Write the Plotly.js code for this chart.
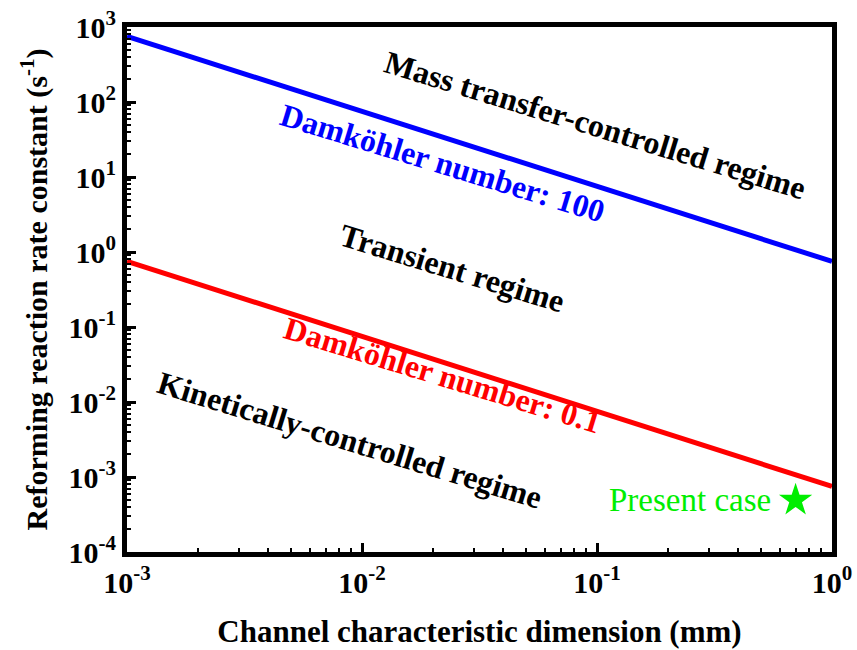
<!DOCTYPE html>
<html>
<head>
<meta charset="utf-8">
<script src="https://cdn.plot.ly/plotly-3.0.1.min.js"></script>
<style>html,body{margin:0;padding:0;background:#fff;}#chart{width:857px;height:650px;}</style>
</head>
<body>
<div id="chart"></div>
<script>
// Data
const dimension = [0.001, 1];                 // channel characteristic dimension (mm)
const damkohler100 = [750, 0.75];             // rate constant (1/s), Da = 100
const damkohler01 = [0.75, 0.00075];          // rate constant (1/s), Da = 0.1
const presentX = [0.70];
const presentY = [0.00049];

const xTickVals = [0.001, 0.01, 0.1, 1];
const xTickText = ['10<sup>-3</sup>', '10<sup>-2</sup>', '10<sup>-1</sup>', '10<sup>0</sup>'];
const yTickVals = [1e-4, 1e-3, 1e-2, 1e-1, 1, 10, 100, 1000];
const yTickText = ['10<sup>-4</sup>', '10<sup>-3</sup>', '10<sup>-2</sup>', '10<sup>-1</sup>',
                   '10<sup>0</sup>', '10<sup>1</sup>', '10<sup>2</sup>', '10<sup>3</sup>'];

const labels = ['Mass transfer-controlled regime', 'Damköhler number: 100', 'Transient regime',
                'Damköhler number: 0.1', 'Kinetically-controlled regime', 'Present case'];

const FONT = 'Liberation Serif, Times New Roman, serif';

const traces = [
  {x: dimension, y: damkohler100, mode: 'lines', line: {color: '#0000ff', width: 5}, showlegend: false},
  {x: dimension, y: damkohler01, mode: 'lines', line: {color: '#ff0000', width: 5}, showlegend: false},
  {x: presentX, y: presentY, mode: 'markers', marker: {symbol: 'star', size: 25, color: '#00ee00'}, showlegend: false}
];

function ann(text, x, y, color, angle) {
  return {text: '<b>' + text + '</b>', x: x, y: y, xref: 'paper', yref: 'paper',
          xanchor: 'center', yanchor: 'middle', showarrow: false, textangle: angle,
          font: {family: FONT, size: 32, color: color}};
}

const axisCommon = {
  type: 'log', showline: true, linewidth: 5, linecolor: '#000', mirror: true,
  ticks: 'inside', ticklen: 9, tickwidth: 3, tickcolor: '#000',
  showgrid: false, zeroline: false, tickmode: 'array',
  tickfont: {family: FONT, size: 30, color: '#000', weight: 'bold'},
  minor: {ticks: 'inside', ticklen: 4, tickwidth: 2, tickcolor: '#000', dtick: 'D1', showgrid: false}
};

const layout = {
  width: 857, height: 650,
  margin: {l: 127, r: 25, t: 27, b: 98},
  paper_bgcolor: '#fff', plot_bgcolor: '#fff',
  xaxis: Object.assign({}, axisCommon, {
    range: [-3, 0], tickvals: xTickVals, ticktext: xTickText,
    title: {text: '<b>Channel characteristic dimension (mm)</b>', standoff: 24,
            font: {family: FONT, size: 31, color: '#000'}}
  }),
  yaxis: Object.assign({}, axisCommon, {
    range: [-4, 3], tickvals: yTickVals, ticktext: yTickText,
    title: {text: '<b>Reforming reaction rate constant (s<sup>-1</sup>)</b>', standoff: 14,
            font: {family: FONT, size: 30, color: '#000'}}
  }),
  annotations: [
    ann(labels[0], 0.664, 0.813, '#000', 17),
    ann(labels[1], 0.448, 0.741, '#0000ff', 17),
    ann(labels[2], 0.461, 0.541, '#000', 17),
    ann(labels[3], 0.447, 0.337, '#ff0000', 17),
    ann(labels[4], 0.316, 0.213, '#000', 17),
    {text: labels[5], x: 0.799, y: 0.099, xref: 'paper', yref: 'paper', xanchor: 'center', yanchor: 'middle',
     showarrow: false, font: {family: FONT, size: 33, color: '#00ee00'}}
  ]
};

Plotly.newPlot('chart', traces, layout, {displayModeBar: false, staticPlot: true});
</script>
</body>
</html>
